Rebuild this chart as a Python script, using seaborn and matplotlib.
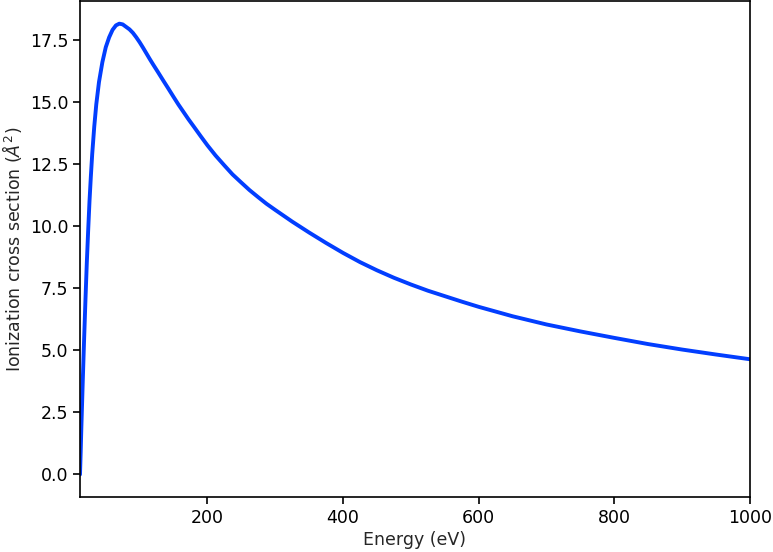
import matplotlib
matplotlib.use("Agg")
import matplotlib.pyplot as plt
import seaborn as sns

# energy (eV) and ionization cross section (A^2)
energy = [12, 13, 14, 15, 16, 18, 20, 22, 24, 26, 28, 30, 33, 36, 40, 45, 50, 55,
          60, 65, 70, 75, 80, 85, 90, 95, 100, 105, 110, 115, 120, 127, 135, 142,
          150, 157, 165, 172, 180, 190, 200, 212, 225, 237, 250, 262, 275, 287,
          300, 325, 350, 375, 400, 425, 450, 475, 500, 525, 550, 575, 600, 650,
          700, 750, 800, 850, 900, 950, 1000]
sigma = [0.0, 0.9, 1.9, 2.8, 3.7, 5.4, 7.0, 8.5, 9.8, 11.0, 12.0, 12.9, 14.0, 14.9,
         15.8, 16.6, 17.2, 17.6, 17.9, 18.08, 18.15, 18.12, 18.02, 17.92, 17.78,
         17.6, 17.4, 17.18, 16.95, 16.72, 16.5, 16.2, 15.85, 15.55, 15.2, 14.9,
         14.58, 14.3, 14.0, 13.62, 13.25, 12.84, 12.44, 12.08, 11.75, 11.45,
         11.16, 10.9, 10.65, 10.18, 9.74, 9.32, 8.92, 8.55, 8.22, 7.92, 7.65,
         7.4, 7.18, 6.96, 6.75, 6.37, 6.04, 5.76, 5.5, 5.25, 5.03, 4.83, 4.64]

sns.set_style("ticks")
plt.rcParams.update({
    "font.family": ["DejaVu Sans"],
    "font.size": 12.5,
    "axes.linewidth": 1.2,
    "xtick.major.size": 5,
    "ytick.major.size": 5,
    "xtick.major.width": 1.2,
    "ytick.major.width": 1.2,
    "xtick.color": "black",
    "ytick.color": "black",
    "axes.edgecolor": "black",
})

fig, ax = plt.subplots(figsize=(7.73, 5.52), dpi=100)
fig.subplots_adjust(left=0.1035, right=0.970, top=0.998, bottom=0.0996)

sns.lineplot(x=energy, y=sigma, ax=ax, color="#023eff", linewidth=2.8)
ax.set_xlim(energy[0], energy[-1])
ax.tick_params(labelsize=12.5)
ax.set_xlabel("Energy (eV)", fontsize=12.5, labelpad=3)
ax.set_ylabel(r"Ionization cross section ($\AA^2$)", fontsize=12.5)

fig.savefig("out.png", dpi=100)
